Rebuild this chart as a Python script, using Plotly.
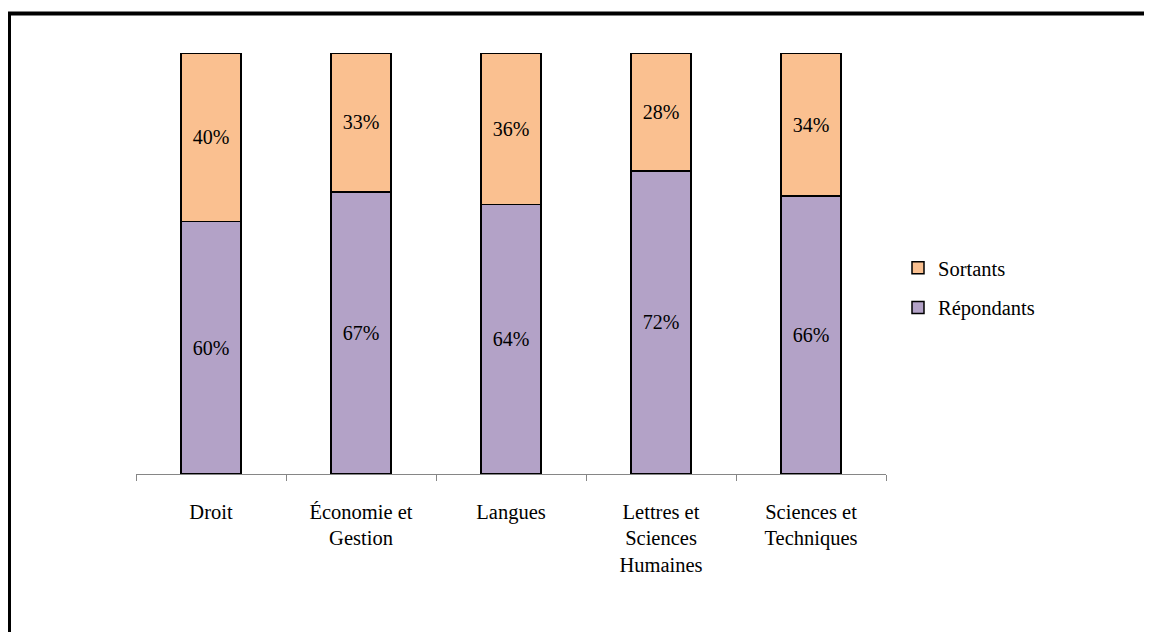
import plotly.graph_objects as go

categories = ["Droit", "Économie et<br>Gestion", "Langues",
              "Lettres et<br>Sciences<br>Humaines", "Sciences et<br>Techniques"]
repondants = [60, 67, 64, 72, 66]
sortants = [40, 33, 36, 28, 34]

FONT = "Liberation Serif, Times New Roman, serif"
W, H = 1152, 632
OFF = 8  # page body margin
pw, ph = 750, 421
L, T = 136 - OFF, 53 - OFF
R, B = W - L - pw, H - T - ph

def px_x(px):
    return (px - OFF - L) / pw

def px_y(py):
    return (T + ph - (py - OFF)) / ph

fig = go.Figure()
fig.add_trace(go.Bar(
    x=categories, y=repondants, name="Répondants",
    marker=dict(color="#B3A2C7", line=dict(color="#000000", width=1.5)),
    texttemplate="%{y}%", textposition="inside", insidetextanchor="middle",
    textfont=dict(family=FONT, size=20, color="#000000"),
    legendgroup="r", legendrank=2,
))
fig.add_trace(go.Bar(
    x=categories, y=sortants, name="Sortants",
    marker=dict(color="#FAC090", line=dict(color="#000000", width=1.5)),
    texttemplate="%{y}%", textposition="inside", insidetextanchor="middle",
    textfont=dict(family=FONT, size=20, color="#000000"),
    legendgroup="s", legendrank=1,
))

fig.update_layout(
    width=W, height=H,
    margin=dict(l=L, r=R, t=T, b=B),
    barmode="stack", bargap=0.6,
    paper_bgcolor="white", plot_bgcolor="white",
    font=dict(family=FONT, size=20, color="#000000"),
    xaxis=dict(
        showline=True, linecolor="#868686", linewidth=1,
        ticks="outside", tickcolor="#868686", ticklen=6, tickson="boundaries",
        ticklabelstandoff=19,
        tickfont=dict(family=FONT, size=20.5, color="#000000"),
        showgrid=False, zeroline=False,
    ),
    yaxis=dict(range=[0, 100], visible=False, showgrid=False),
    legend=dict(
        x=px_x(898), y=px_y(288), xanchor="left", yanchor="middle",
        traceorder="grouped", tracegroupgap=10,
        font=dict(family=FONT, size=20.5, color="#000000"),
        itemwidth=30, bgcolor="rgba(0,0,0,0)",
    ),
    showlegend=True,
    shapes=[dict(
        type="rect", xref="paper", yref="paper",
        x0=px_x(9), x1=px_x(1170), y0=px_y(650), y1=px_y(13.5),
        line=dict(color="#000000", width=4), fillcolor="rgba(0,0,0,0)",
        layer="above",
    )],
)

fig.write_html("out.html")
